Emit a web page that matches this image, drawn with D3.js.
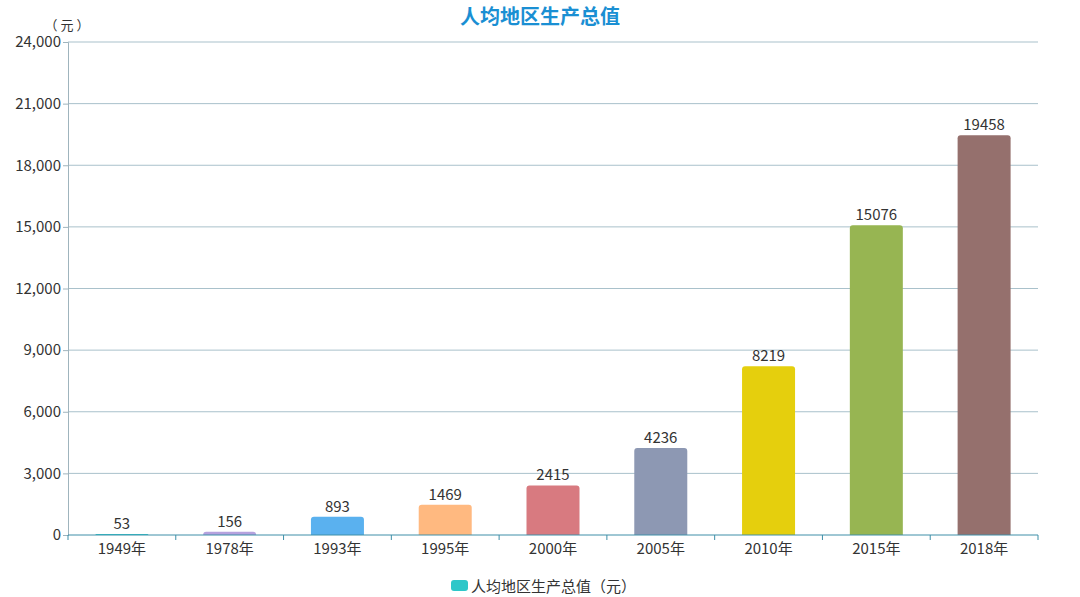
<!DOCTYPE html>
<html>
<head>
<meta charset="utf-8">
<script src="https://d3js.org/d3.v7.min.js"></script>
<style>
  body { margin: 0; background: #fff; }
  text { font-family: "Noto Sans CJK SC", "Noto Sans", sans-serif; }
</style>
</head>
<body>
<svg id="chart" width="1080" height="597"></svg>
<script>
var years = ["1949年", "1978年", "1993年", "1995年", "2000年", "2005年", "2010年", "2015年", "2018年"];
var values = [53, 156, 893, 1469, 2415, 4236, 8219, 15076, 19458];
var barColors = ["#2ec7c9", "#b6a2de", "#5ab1ef", "#ffb980", "#d87a80", "#8d98b3", "#e5cf0d", "#97b552", "#95706d"];
var yTicks = [0, 3000, 6000, 9000, 12000, 15000, 18000, 21000, 24000];

var margin = {left: 68, right: 42, top: 42, bottom: 62};
var width = 1080 - margin.left - margin.right;
var height = 597 - margin.top - margin.bottom;

var svg = d3.select("#chart");
var g = svg.append("g")
    .attr("transform", "translate(" + margin.left + "," + margin.top + ")");

var x = d3.scaleBand().domain(years).range([0, width]);
var y = d3.scaleLinear().domain([0, 24000]).range([height, 0]);

// grid lines
g.selectAll(".grid")
    .data(yTicks.slice(1))
    .enter()
    .append("line")
    .attr("x1", 0)
    .attr("x2", width)
    .attr("y1", function(d) { return y(d); })
    .attr("y2", function(d) { return y(d); })
    .attr("stroke", "#a9c1cb")
    .attr("stroke-width", 1);

// y axis
var yAxis = g.append("g")
    .call(d3.axisLeft(y).tickValues(yTicks).tickFormat(d3.format(",")).tickSize(5).tickPadding(2));
yAxis.select(".domain").attr("stroke", "#9fb4bd");
yAxis.selectAll(".tick line").attr("stroke", "#9fb4bd");
yAxis.selectAll("text").attr("fill", "#333").style("font-size", "15px");

// bars with rounded tops
var bw = 53;
var r = 3;
g.selectAll(".bar")
    .data(values)
    .enter()
    .append("path")
    .attr("fill", function(d, i) { return barColors[i]; })
    .attr("d", function(d, i) {
        var x0 = x(years[i]) + (x.bandwidth() - bw) / 2;
        var y0 = y(d);
        var h = height - y0;
        var rr = Math.min(r, h);
        return "M" + x0 + "," + height +
            "V" + (y0 + rr) +
            "Q" + x0 + "," + y0 + " " + (x0 + rr) + "," + y0 +
            "H" + (x0 + bw - rr) +
            "Q" + (x0 + bw) + "," + y0 + " " + (x0 + bw) + "," + (y0 + rr) +
            "V" + height + "Z";
    });

// value labels
g.selectAll(".val")
    .data(values)
    .enter()
    .append("text")
    .attr("x", function(d, i) { return x(years[i]) + x.bandwidth() / 2; })
    .attr("y", function(d) { return y(d) - 5; })
    .attr("text-anchor", "middle")
    .attr("fill", "#333")
    .style("font-size", "15px")
    .text(function(d) { return d; });

// x axis
var xAxis = g.append("g")
    .attr("transform", "translate(0," + height + ")")
    .call(d3.axisBottom(x).tickSize(0).tickPadding(8));
xAxis.select(".domain").attr("stroke", "#3f8fa8").attr("d", "M0,0H" + width);
xAxis.selectAll("text").attr("fill", "#333").style("font-size", "15px");

// ticks between categories
g.selectAll(".xt")
    .data(d3.range(years.length + 1))
    .enter()
    .append("line")
    .attr("x1", function(i) { return i * x.step(); })
    .attr("x2", function(i) { return i * x.step(); })
    .attr("y1", height)
    .attr("y2", height + 5)
    .attr("stroke", "#3f8fa8");

// unit label
svg.append("text")
    .attr("x", 67)
    .attr("y", 30)
    .attr("text-anchor", "middle")
    .attr("fill", "#333")
    .style("font-size", "13px")
    .text("（ 元 ）");

// title
svg.append("text")
    .attr("x", 540)
    .attr("y", 24)
    .attr("text-anchor", "middle")
    .attr("fill", "#1a8fd3")
    .style("font-size", "20px")
    .style("font-weight", "bold")
    .text("人均地区生产总值");

// legend
svg.append("rect")
    .attr("x", 451)
    .attr("y", 580)
    .attr("width", 17)
    .attr("height", 11)
    .attr("rx", 3)
    .attr("fill", barColors[0]);
svg.append("text")
    .attr("x", 471)
    .attr("y", 592)
    .attr("fill", "#333")
    .style("font-size", "15px")
    .text("人均地区生产总值（元）");
</script>
</body>
</html>
